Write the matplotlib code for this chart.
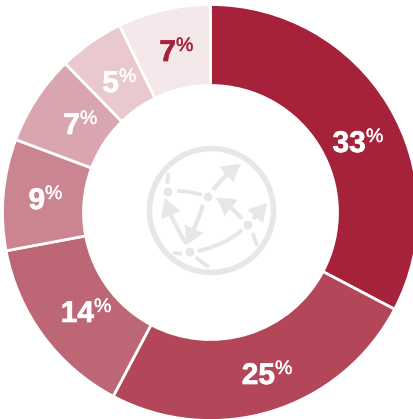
import matplotlib
matplotlib.use('Agg')
import matplotlib.pyplot as plt
import matplotlib.patheffects as pe
from matplotlib.patches import Circle, FancyArrowPatch, PathPatch
from matplotlib.path import Path

plt.rcParams['font.family'] = ['Liberation Sans', 'DejaVu Sans']

# Share of each slice, clockwise from the top
values = [32.7, 25.05, 14.3, 8.65, 7.0, 5.1, 7.2]
colors = ['#A6213A', '#B34659', '#BD6675', '#CB8591', '#D9A6B0', '#E9C8CF', '#F5E8EA']
label_colors = ['white', 'white', 'white', 'white', 'white', 'white', '#A6213A']
# right edge of the digits and their baseline, in picture pixels
label_pos = [(366, 152), (275, 384), (94, 322), (45, 209), (80, 134), (119, 92), (176, 61)]

W, H = 414, 419
ICON = '#E6E7E8'

fig = plt.figure(figsize=(W / 100, H / 100), dpi=100)
ax = fig.add_axes([0, 0, 1, 1])

cx, cy, R, r = 210.5, H - 212.5, 208, 127
ax.pie(values, colors=colors, startangle=90, counterclock=False, center=(cx, cy), radius=R,
       wedgeprops=dict(width=R - r, edgecolor='white', linewidth=2))
ax.set_xlim(0, W)
ax.set_ylim(0, H)
ax.set_aspect('equal')
ax.set_axis_off()


# helpers for the globe icon, given in pixels measured from the top left
def pt(x, y):
    return (x, H - y)


def curve(p0, p1, p2):
    ax.add_patch(PathPatch(Path([pt(*p0), pt(*p1), pt(*p2)], [Path.MOVETO, Path.CURVE3, Path.CURVE3]),
                           fill=False, edgecolor=ICON, linewidth=2.8, capstyle='butt'))


def arrow(p0, p1, rad=0.0):
    ax.add_patch(FancyArrowPatch(pt(*p0), pt(*p1), connectionstyle=f'arc3,rad={rad}',
                                 arrowstyle='simple,head_length=13,head_width=15,tail_width=3',
                                 mutation_scale=1, color=ICON, lw=0, shrinkA=0, shrinkB=0))


ax.add_patch(Circle(pt(211.5, 210.5), 62, fill=False, edgecolor=ICON, linewidth=4))
for node in [(168, 192), (208, 197), (248, 225), (190, 252)]:
    ax.add_patch(Circle(pt(*node), 4.4, color=ICON, lw=0))

curve((177, 191), (190, 191), (202, 195))
curve((198, 251), (225, 245), (242, 230))
curve((252.5, 233), (255, 239), (257, 246))
curve((167.5, 184), (167, 179), (169, 173))
curve((182, 254), (178, 253), (173, 253))
curve((196, 257), (202, 263), (209, 267))
arrow((213, 190), (241, 164), rad=-0.1)
arrow((242, 219), (216, 198), rad=0.1)
arrow((253, 219), (267, 203))
arrow((203, 205), (186, 245), rad=-0.05)
arrow((186, 243), (165, 198), rad=-0.08)

# percentage labels: big digits with a small raised percent sign
for v, c, (x, y) in zip(values, label_colors, label_pos):
    ax.text(x, H - y, f'{v:.0f}', color=c, fontsize=21.5, fontweight='bold', ha='right', va='baseline',
            path_effects=[pe.withStroke(linewidth=0.5, foreground=c)])
    ax.text(x, H - y + 10, '%', color=c, fontsize=14, ha='left', va='baseline',
            path_effects=[pe.withStroke(linewidth=0.3, foreground=c)])

fig.savefig('out.png', dpi=100)
